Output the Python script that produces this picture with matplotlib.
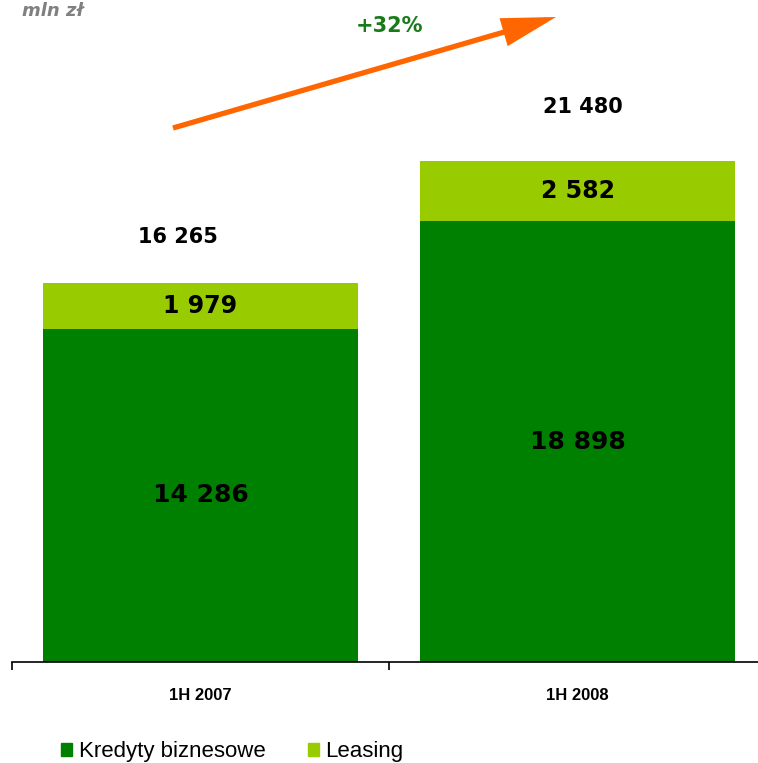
import matplotlib.pyplot as plt
from matplotlib.patches import Patch

categories = ['1H 2007', '1H 2008']
kredyty = [14286, 18898]
leasing = [1979, 2582]
totals = [16265, 21480]
growth = '+32%'
unit = 'mln zł'

dark = '#008000'
light = '#99CC00'
narrow = ['Liberation Sans Narrow', 'Liberation Sans', 'DejaVu Sans']

W, H = 758, 763
fig = plt.figure(figsize=(W / 100, H / 100), dpi=100)
# axes spans from x=12px to beyond the right edge, bottom at y=662px
ax = fig.add_axes([12 / W, (H - 662) / H, 754 / W, 662 / H])

x = [0, 1]
ax.bar(x, kredyty, width=0.836, color=dark, zorder=2)
ax.bar(x, leasing, width=0.836, bottom=kredyty, color=light, zorder=2)
ax.set_xlim(-0.5, 1.5)
ax.set_ylim(0, 662 / 0.02331)

for i in x:
    ax.text(i, kredyty[i] / 2, f'{kredyty[i]:,}'.replace(',', ' '),
            ha='center', va='center', fontsize=18, fontweight='bold')
    ax.text(i, kredyty[i] + leasing[i] / 2, f'{leasing[i]:,}'.replace(',', ' '),
            ha='center', va='center', fontsize=17, fontweight='bold')
ax.annotate(f'{totals[0]:,}'.replace(',', ' '), (0, totals[0]), xytext=(-16, 33),
            textcoords='offset points', ha='center', va='center',
            fontsize=15, fontweight='bold')
ax.annotate(f'{totals[1]:,}'.replace(',', ' '), (1, totals[1]), xytext=(4, 39),
            textcoords='offset points', ha='center', va='center',
            fontsize=15, fontweight='bold')

for s in ['top', 'right', 'left']:
    ax.spines[s].set_visible(False)
ax.spines['bottom'].set_linewidth(1.2)
ax.set_yticks([])
ax.set_xticks([-0.5, 0.5, 1.5])
ax.set_xticklabels([])
ax.tick_params(axis='x', which='major', length=6, width=1.2, direction='out')
ax.set_xticks(x, minor=True)
ax.set_xticklabels(categories, minor=True, fontsize=12, fontweight='bold', family=narrow)
ax.tick_params(axis='x', which='minor', length=0, pad=19)

# growth arrow
ax.annotate('', xy=(556 / W, 1 - 17 / H), xytext=(173 / W, 1 - 128 / H),
            xycoords='figure fraction', textcoords='figure fraction',
            arrowprops=dict(arrowstyle='-|>,head_length=3.0,head_width=0.8',
                            color='#FF6600', lw=3.8, shrinkA=0, shrinkB=0,
                            capstyle='butt', joinstyle='miter'))
fig.text(389 / W, 1 - 26 / H, growth, ha='center', va='center',
         fontsize=15, fontweight='bold', color='#1A7A1A')
fig.text(22 / W, 1 - 2 / H, unit, ha='left', va='top', fontsize=13,
         fontweight='bold', fontstyle='italic', color='#808080')

handles = [Patch(color=dark, label='Kredyty biznesowe'),
           Patch(color=light, label='Leasing')]
fig.legend(handles=handles, loc='center left', bbox_to_anchor=(61 / W, 1 - 752 / H),
           ncol=2, frameon=False, borderpad=0, borderaxespad=0,
           handlelength=0.5, handleheight=0.55,
           handletextpad=0.3, columnspacing=1.9,
           prop={'family': narrow, 'size': 16})

fig.savefig('out.png', dpi=100)
